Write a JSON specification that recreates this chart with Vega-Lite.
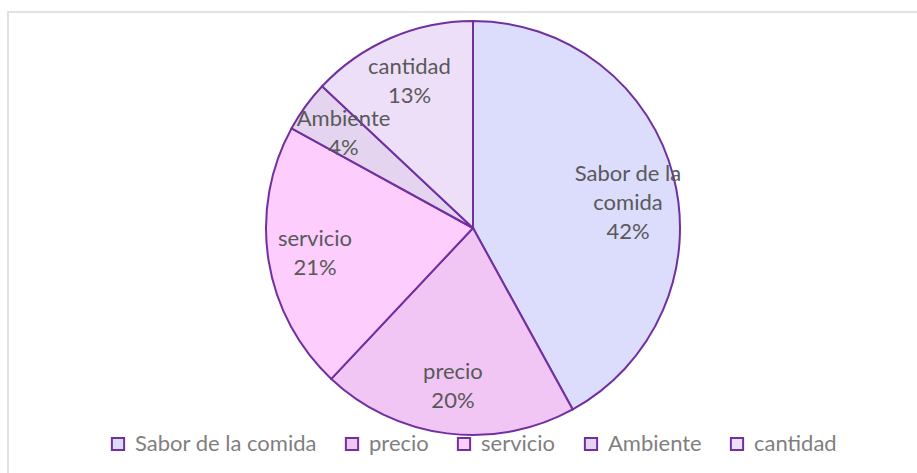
{
  "$schema": "https://vega.github.io/schema/vega-lite/v6.json",
  "autosize": {"type": "none"},
  "width": 930,
  "height": 462,
  "padding": {"left": 8, "top": 12, "right": 0, "bottom": 0},
  "background": "#ffffff",
  "config": {
    "view": {"stroke": null}
  },
  "data": {
    "values": [
      {"categoria": "Sabor de la comida", "valor": 42, "orden": 1, "etiqueta": "Sabor de la\ncomida\n42%"},
      {"categoria": "precio", "valor": 20, "orden": 2, "etiqueta": "precio\n20%"},
      {"categoria": "servicio", "valor": 21, "orden": 3, "etiqueta": "servicio\n21%"},
      {"categoria": "Ambiente", "valor": 4, "orden": 4, "etiqueta": "Ambiente\n4%"},
      {"categoria": "cantidad", "valor": 13, "orden": 5, "etiqueta": "cantidad\n13%"}
    ]
  },
  "layer": [
    {
      "data": {"values": [{"marco": "borde"}]},
      "mark": {"type": "rect", "fill": null, "stroke": "#d9d9d9", "strokeWidth": 1.5},
      "encoding": {}
    },
    {
      "mark": {"type": "arc", "outerRadius": 207, "stroke": "#7030A0", "strokeWidth": 2, "yOffset": -15},
      "encoding": {
        "theta": {"field": "valor", "type": "quantitative", "stack": true},
        "order": {"field": "orden", "type": "quantitative"},
        "color": {
          "field": "categoria",
          "type": "nominal",
          "sort": ["Sabor de la comida", "precio", "servicio", "Ambiente", "cantidad"],
          "scale": {
            "domain": ["Sabor de la comida", "precio", "servicio", "Ambiente", "cantidad"],
            "range": ["#dcdcfc", "#f2c6f4", "#fdcdfd", "#e4d4f0", "#eedff9"]
          },
          "legend": {
            "title": null,
            "orient": "none",
            "direction": "horizontal",
            "columns": 5,
            "legendX": 99,
            "legendY": 421,
            "symbolType": "square",
            "symbolSize": 150,
            "symbolStrokeColor": "#7030A0",
            "symbolStrokeWidth": 2,
            "symbolOpacity": 1,
            "labelFont": "Lato",
            "labelFontSize": 22,
            "labelColor": "#7f7f7f",
            "labelOffset": 6,
            "columnPadding": 24,
            "labelLimit": 400
          }
        }
      }
    },
    {
      "mark": {
        "type": "text",
        "radius": 160,
        "yOffset": -15,
        "dy": -14.5,
        "font": "Lato",
        "fontSize": 22,
        "color": "#595959",
        "lineBreak": "\n",
        "lineHeight": 29,
        "align": "center",
        "baseline": "middle"
      },
      "encoding": {
        "theta": {"field": "valor", "type": "quantitative", "stack": true},
        "order": {"field": "orden", "type": "quantitative"},
        "text": {"field": "etiqueta", "type": "nominal"}
      }
    }
  ]
}
